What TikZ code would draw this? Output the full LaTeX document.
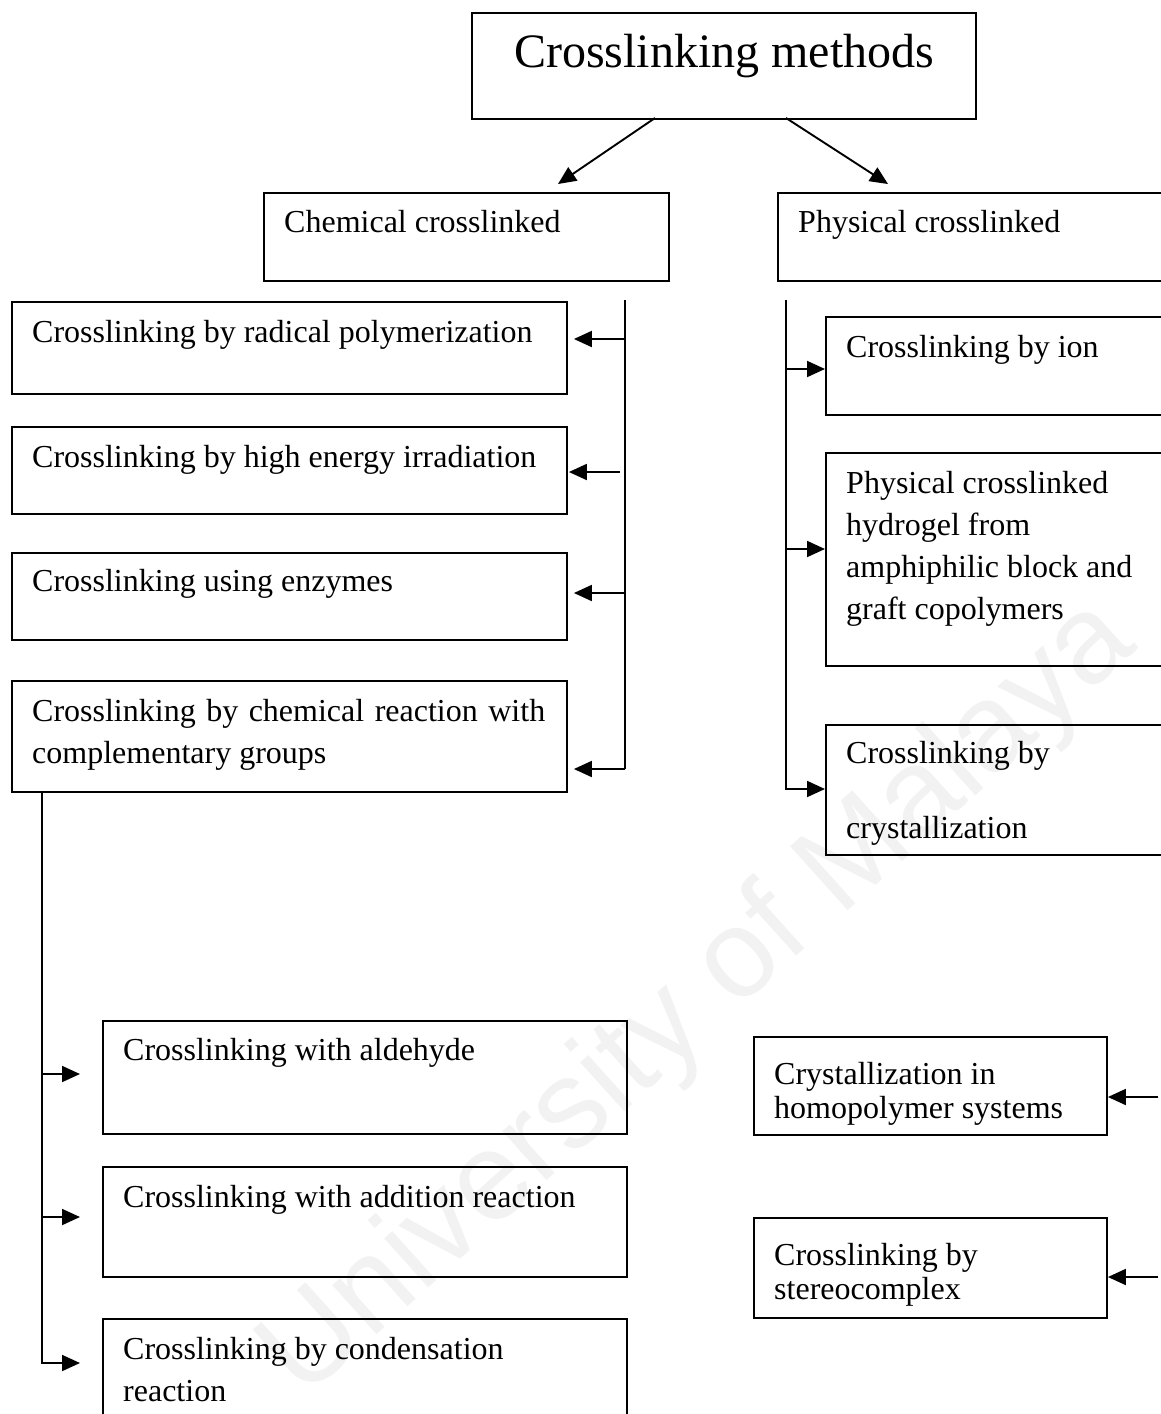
\documentclass[tikz,border=0pt]{standalone}
\usepackage{fontspec}
\setmainfont{Liberation Serif}
\newfontfamily\wmfont{Liberation Sans}
\usetikzlibrary{arrows.meta}
\begin{document}
\begin{tikzpicture}[x=1pt,y=-1pt,
  box/.style={draw, line width=1.9pt, inner sep=0pt, anchor=north west},
  lbl/.style={anchor=base west, inner sep=0pt, font=\fontsize{32}{42}\selectfont},
  ttl/.style={anchor=base west, inner sep=0pt, font=\fontsize{48}{56}\selectfont},
  ln/.style={line width=1.9pt},
  arr/.style={line width=1.9pt, -{Triangle[length=18pt,width=16pt]}}]
\useasboundingbox (0,0) rectangle (1161,1414);
\clip (0,0) rectangle (1161,1414);
% watermark
\node[font=\wmfont\fontsize{125}{130}\selectfont, text=black!5, rotate=42, inner sep=0pt] (wm) at (700,1000) {University of Malaya};
% boxes
\node[box, minimum width=504, minimum height=106] (title) at (471,12) {};
\node[box, minimum width=405, minimum height=88] (chem) at (263,192) {};
\node[box, minimum width=420, minimum height=88] (phys) at (777,192) {};
\node[box, minimum width=555, minimum height=92] (c1) at (11,301) {};
\node[box, minimum width=555, minimum height=87] (c2) at (11,426) {};
\node[box, minimum width=555, minimum height=87] (c3) at (11,552) {};
\node[box, minimum width=555, minimum height=111] (c4) at (11,680) {};
\node[box, minimum width=360, minimum height=98] (r1) at (825,316) {};
\node[box, minimum width=360, minimum height=213] (r2) at (825,452) {};
\node[box, minimum width=360, minimum height=130] (r3) at (825,724) {};
\node[box, minimum width=524, minimum height=113] (b1) at (102,1020) {};
\node[box, minimum width=524, minimum height=110] (b2) at (102,1166) {};
\node[box, minimum width=524, minimum height=140] (b3) at (102,1318) {};
\node[box, minimum width=353, minimum height=98] (s1) at (753,1036) {};
\node[box, minimum width=353, minimum height=100] (s2) at (753,1217) {};
% texts
\node[ttl] (titletxt) at (514,67) {Crosslinking methods};
\node[lbl] (chemtxt) at (284,232) {Chemical crosslinked};
\node[lbl] (phystxt) at (798,232) {Physical crosslinked};
\node[lbl] (c1txt) at (32,342) {Crosslinking by radical polymerization};
\node[lbl] (c2txt) at (32,467) {Crosslinking by high energy irradiation};
\node[lbl] (c3txt) at (32,591) {Crosslinking using enzymes};
\node[lbl] (c4txta) at (32,721) {\makebox[513pt][s]{Crosslinking by chemical reaction with}};
\node[lbl] (c4txtb) at (32,763) {complementary groups};
\node[lbl] (r1txt) at (846,357) {Crosslinking by ion};
\node[lbl] (r2txta) at (846,493) {Physical crosslinked};
\node[lbl] (r2txtb) at (846,535) {hydrogel from};
\node[lbl] (r2txtc) at (846,577) {amphiphilic block and};
\node[lbl] (r2txtd) at (846,619) {graft copolymers};
\node[lbl] (r3txta) at (846,763) {Crosslinking by};
\node[lbl] (r3txtb) at (846,838) {crystallization};
\node[lbl] (b1txt) at (123,1060) {Crosslinking with aldehyde};
\node[lbl] (b2txt) at (123,1207) {Crosslinking with addition reaction};
\node[lbl] (b3txta) at (123,1359) {Crosslinking by condensation};
\node[lbl] (b3txtb) at (123,1401) {reaction};
\node[lbl] (s1txta) at (774,1084) {Crystallization in};
\node[lbl] (s1txtb) at (774,1118) {homopolymer systems};
\node[lbl] (s2txta) at (774,1265) {Crosslinking by};
\node[lbl] (s2txtb) at (774,1299) {stereocomplex};
% top arrows
\coordinate (tl) at (655,118);
\coordinate (tr) at (786,118);
\coordinate (chemtip) at (558,184);
\coordinate (phystip) at (888,184);
\draw[arr] (tl) -- (chemtip);
\draw[arr] (tr) -- (phystip);
% chemical bracket
\coordinate (lt) at (625,300);
\coordinate (lb) at (625,769);
\draw[ln] (lt) -- (lb);
\draw[arr] (625,339) -- ([xshift=6pt]c1.east |- 0,339);
\draw[arr] (620,472) -- ([xshift=1pt]c2.east |- 0,472);
\draw[arr] (625,593) -- ([xshift=6pt]c3.east |- 0,593);
\draw[arr] (lb) -- ([xshift=6pt]c4.east |- lb);
% physical bracket
\coordinate (pt) at (786,300);
\coordinate (pb) at (786,789);
\draw[arr] (pt) -- (pb) -- (r3.west |- pb);
\draw[arr] (786,369) -- (r1.west |- 0,369);
\draw[arr] (786,549) -- (r2.west |- 0,549);
% bottom-left bracket
\coordinate (bt) at (42,791);
\coordinate (bb) at (42,1363);
\draw[arr] (bt) -- (bb) -- ([xshift=-22pt]b3.west |- bb);
\draw[arr] (42,1074) -- ([xshift=-22pt]b1.west |- 0,1074);
\draw[arr] (42,1217) -- ([xshift=-22pt]b2.west |- 0,1217);
% bottom-right arrows
\coordinate (s1src) at (1158,1097);
\coordinate (s2src) at (1158,1277);
\draw[arr] (s1src) -- (s1.east |- s1src);
\draw[arr] (s2src) -- (s2.east |- s2src);
\end{tikzpicture}
\end{document}
